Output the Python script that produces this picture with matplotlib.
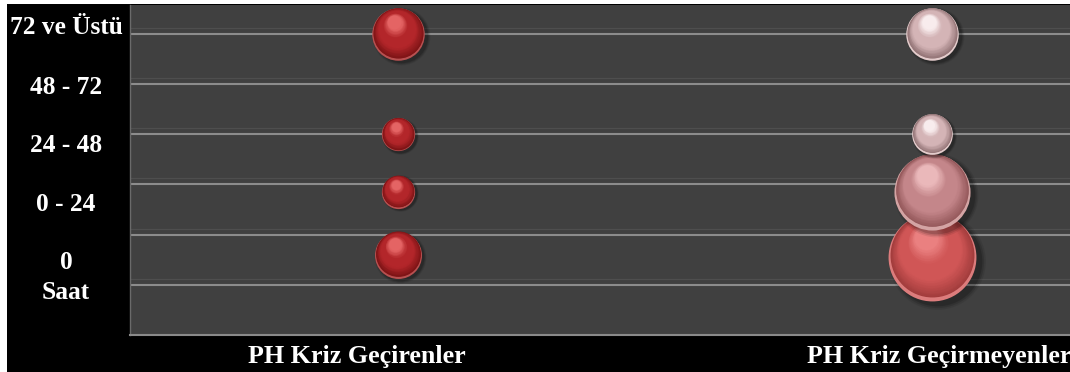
import numpy as np
import matplotlib
matplotlib.use("Agg")
import matplotlib.pyplot as plt
from matplotlib import transforms
from matplotlib.colors import to_rgb
from matplotlib.patches import Rectangle

# ---- data -------------------------------------------------------------
groups = ["PH Kriz Geçirenler", "PH Kriz Geçirmeyenler"]
group_x = [1, 2]

hour_labels = ["0\nSaat", "0 - 24", "24 - 48", "48 - 72", "72 ve Üstü"]
hour_label_y = [1.15, 2.6, 3.78, 4.94, 6.12]

# rows from bottom to top: 0 Saat, 0-24, 24-48, 72 ve Üstü
crisis_y = [1.6, 2.85, 4.0, 6.0]
crisis_size = [8, 4, 4, 10]
nocrisis_y = [1.55, 2.85, 4.0, 6.0]
nocrisis_size = [28, 21, 6, 10]

grid_levels = [1, 2, 3, 4, 5, 6]

# sphere palettes: (edge, body, highlight, rim reflection)
red_ball = ("#7e1416", "#b3262a", "#e46464", "#b85050")
crisis_colors = [red_ball] * 4
nocrisis_colors = [
    ("#a23c3c", "#d05656", "#ea8080", "#dc7c7c"),
    ("#94585a", "#c4868a", "#eab8ba", "#d4a4a4"),
    ("#937476", "#d4b4b6", "#f8eced", "#e4cccc"),
    ("#937476", "#d4b4b6", "#f8eced", "#e4cccc"),
]

BUBBLE_SCALE = 143.0  # points^2 per unit of bubble size

# ---- figure -----------------------------------------------------------
W, H = 1070, 372
fig = plt.figure(figsize=(W / 100, H / 100), dpi=100, facecolor="black")
fig.patches.append(Rectangle((0, 0), 7 / W, 1, transform=fig.transFigure,
                             facecolor="white", edgecolor="none", zorder=-1))
fig.patches.append(Rectangle((0, (H - 4) / H), 1, 4 / H, transform=fig.transFigure,
                             facecolor="white", edgecolor="none", zorder=-1))

ax = fig.add_axes([130 / W, 37 / H, 940 / W, 330 / H])
ax.set_facecolor("#404040")
ax.set_xlim(0.498, 2.258)
ax.set_ylim(0, 6.578)
ax.set_xticks([])
ax.set_yticks([])
for side in ["top", "right"]:
    ax.spines[side].set_visible(False)
ax.spines["left"].set_color("#6a6a6a")
ax.spines["left"].set_linewidth(1.0)
ax.spines["bottom"].set_color("#8a8a8a")
ax.spines["bottom"].set_linewidth(1.5)

for g in grid_levels:
    ax.axhline(g + 0.12, color="#4e4e4e", lw=0.9, zorder=1)
    ax.axhline(g, color="#8c8c8c", lw=1.5, zorder=1)


def mix(a, b, t):
    a, b = np.array(to_rgb(a)), np.array(to_rgb(b))
    return tuple(a + (b - a) * t)


def shifted(dx, dy):
    return transforms.offset_copy(ax.transData, fig=fig, x=dx, y=dy, units="points")


def sphere(x, y, size, palette, z):
    edge, body, light, rim = palette
    d = np.sqrt(size * BUBBLE_SCALE)
    # soft drop shadow
    for k, a in enumerate([0.08, 0.12, 0.16]):
        ax.scatter([x], [y], s=(d * (1.10 - 0.04 * k)) ** 2, color="black",
                   alpha=a, lw=0, transform=shifted(d * 0.05, -d * 0.04), zorder=z)
    # reflected light along the lower rim
    ax.scatter([x], [y], s=d ** 2, color=rim, lw=0, transform=shifted(0, 0), zorder=z)
    # shaded body
    n = 40
    for k in range(n):
        t = k / (n - 1)
        if t < 0.35:
            c = mix(edge, body, t / 0.35)
        elif t < 0.7:
            c = body
        else:
            c = mix(body, light, (t - 0.7) / 0.3)
        dd = 0.955 * d * (1 - 0.72 * t)
        ax.scatter([x], [y], s=dd ** 2, color=c, lw=0,
                   transform=shifted(-0.07 * d * t, 0.022 * d + 0.2 * d * t),
                   zorder=z)


for gx, ys, sizes, cols in [(group_x[0], crisis_y, crisis_size, crisis_colors),
                            (group_x[1], nocrisis_y, nocrisis_size, nocrisis_colors)]:
    for i, (yy, ss, cc) in enumerate(zip(ys, sizes, cols)):
        sphere(gx, yy, ss, cc, 3 + i)

# ---- labels -----------------------------------------------------------
font = dict(family="Liberation Serif", weight="bold", color="white")
ylab_tf = transforms.blended_transform_factory(fig.transFigure, ax.transData)
for lab, yy in zip(hour_labels, hour_label_y):
    fig.text(66 / W, yy, lab, transform=ylab_tf, ha="center", va="center",
             linespacing=1.4, size=18.3, **font)

group_label_x = [357, 939]
for lab, px in zip(groups, group_label_x):
    fig.text(px / W, (H - 357) / H, lab, ha="center", va="center", size=18.7, **font)

fig.savefig("out.png", dpi=100, facecolor=fig.get_facecolor())
